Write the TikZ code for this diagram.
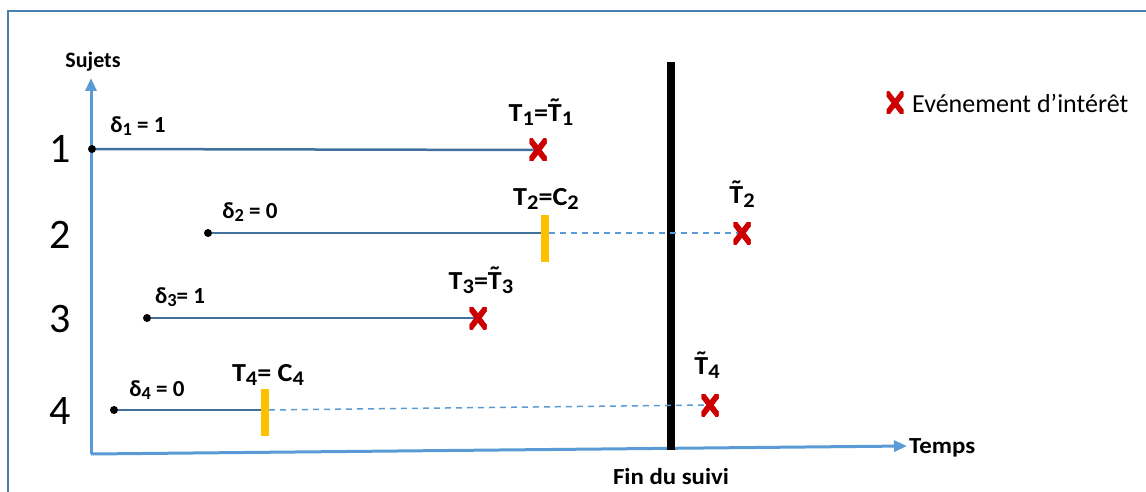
\documentclass[tikz,border=0pt]{standalone}
\usepackage{fontspec}
\setmainfont{Carlito}
\usetikzlibrary{arrows.meta}
\definecolor{frameblue}{HTML}{4A7EB0}
\definecolor{axisblue}{HTML}{5B9BD5}
\definecolor{lineblue}{HTML}{41719C}
\definecolor{xred}{HTML}{CC0000}
\definecolor{barorange}{HTML}{FFC000}
\newcommand{\sbs}[1]{\raisebox{-0.3ex}{\scalebox{0.8}{#1}}}
\newcommand{\Tt}{\ooalign{T\cr\hidewidth\raisebox{0.42ex}{˜}\hidewidth\cr}}
\tikzset{
  lbl/.style={font=\bfseries\fontsize{26}{28}\selectfont, inner sep=0pt, xscale=1.08},
  dlbl/.style={font=\bfseries\fontsize{23}{25}\selectfont, inner sep=0pt},
  num/.style={font=\fontsize{42}{44}\selectfont, inner sep=0pt},
  subjline/.style={draw=lineblue, line width=2.5pt},
  dashline/.style={draw=axisblue, line width=1.5pt, dash pattern=on 6pt off 5pt},
  axis/.style={draw=axisblue, line width=3pt, -{Triangle[length=13pt,width=11pt]}},
  startdot/.style={circle, fill=black, inner sep=0pt, minimum size=8pt},
  cens/.style={draw=none, fill=barorange, minimum width=8pt, minimum height=47pt, inner sep=0pt},
  evt/.style={inner sep=0pt, minimum width=17pt, minimum height=22pt,
    path picture={\draw[xred, line width=5.5pt] (path picture bounding box.north west) -- (path picture bounding box.south east);
                  \draw[xred, line width=5.5pt] (path picture bounding box.north east) -- (path picture bounding box.south west);}},
}
\begin{document}
\begin{tikzpicture}[x=1pt,y=-1pt]
\useasboundingbox (0,0) rectangle (1146,492);
% frame
\draw[frameblue, line width=2pt] (8,492) -- (8,11) -- (1146,11);
% axes
\coordinate (O) at (91,454);
\coordinate (ytip) at (91,78);
\coordinate (xtip) at (907,446);
\draw[axis] (O) -- (ytip);
\draw[axis] (O) -- (xtip);
\node[font=\bfseries\fontsize{22}{24}\selectfont, inner sep=0pt] (sujets) at (93,62) {Sujets};
\node[font=\bfseries\fontsize{23}{25}\selectfont, anchor=west, inner sep=0pt, xscale=1.08] (temps) at (909,448) {Temps};
% end of follow-up
\coordinate (fintop) at (671,62);
\coordinate (finbot) at (671,450);
\draw[black, line width=8pt] (fintop) -- (finbot);
\node[font=\bfseries\fontsize{23}{25}\selectfont, inner sep=0pt, xscale=1.08] (fin) at (671,477) {Fin du suivi};
% numbers
\node[num] (n1) at (60,149) {1};
\node[num] (n2) at (60,235) {2};
\node[num] (n3) at (60,319) {3};
\node[num] (n4) at (60,411) {4};
% subject 1
\node[startdot] (s1) at (92,149) {};
\node[evt] (e1) at (538,150) {};
\draw[subjline] (s1) -- (e1.center);
\node[evt] at (538,150) {};
\node[dlbl] (d1) at (138,126) {δ\sbs{1} = 1};
\node[lbl] (t1) at (541,115) {T\sbs{1}=\Tt\sbs{1}};
% subject 2
\node[startdot] (s2) at (208,233) {};
\node[cens] (c2) at (545,238) {};
\node[evt] (e2) at (742,233) {};
\draw[subjline] (s2) -- (541,233);
\draw[dashline] (549,233) -- (e2.center);
\node[evt] at (742,233) {};
\node[dlbl] (d2) at (250,212) {δ\sbs{2} = 0};
\node[lbl] (t2) at (546,199) {T\sbs{2}=C\sbs{2}};
\node[lbl] (tt2) at (742,197) {\Tt\sbs{2}};
% subject 3
\node[startdot] (s3) at (147,318) {};
\node[evt] (e3) at (478,318) {};
\draw[subjline] (s3) -- (e3.center);
\node[evt] at (478,318) {};
\node[dlbl] (d3) at (180,297) {δ\sbs{3}= 1};
\node[lbl] (t3) at (481,283) {T\sbs{3}=\Tt\sbs{3}};
% subject 4
\node[startdot] (s4) at (114,410) {};
\node[cens] (c4) at (265,412) {};
\node[evt] (e4) at (710,405) {};
\draw[subjline] (s4) -- (261,410);
\draw[dashline] (269,410) -- (e4.center);
\node[evt] at (710,405) {};
\node[dlbl] (d4) at (157,390) {δ\sbs{4} = 0};
\node[lbl] (t4) at (268,375) {T\sbs{4}= C\sbs{4}};
\node[lbl] (tt4) at (707,368) {\Tt\sbs{4}};
% legend
\node[evt] (lx) at (895,103) {};
\node[font=\fontsize{26}{28}\selectfont, anchor=west, inner sep=0pt] (leg) at (912,103) {Evénement d’intérêt};
\end{tikzpicture}
\end{document}
